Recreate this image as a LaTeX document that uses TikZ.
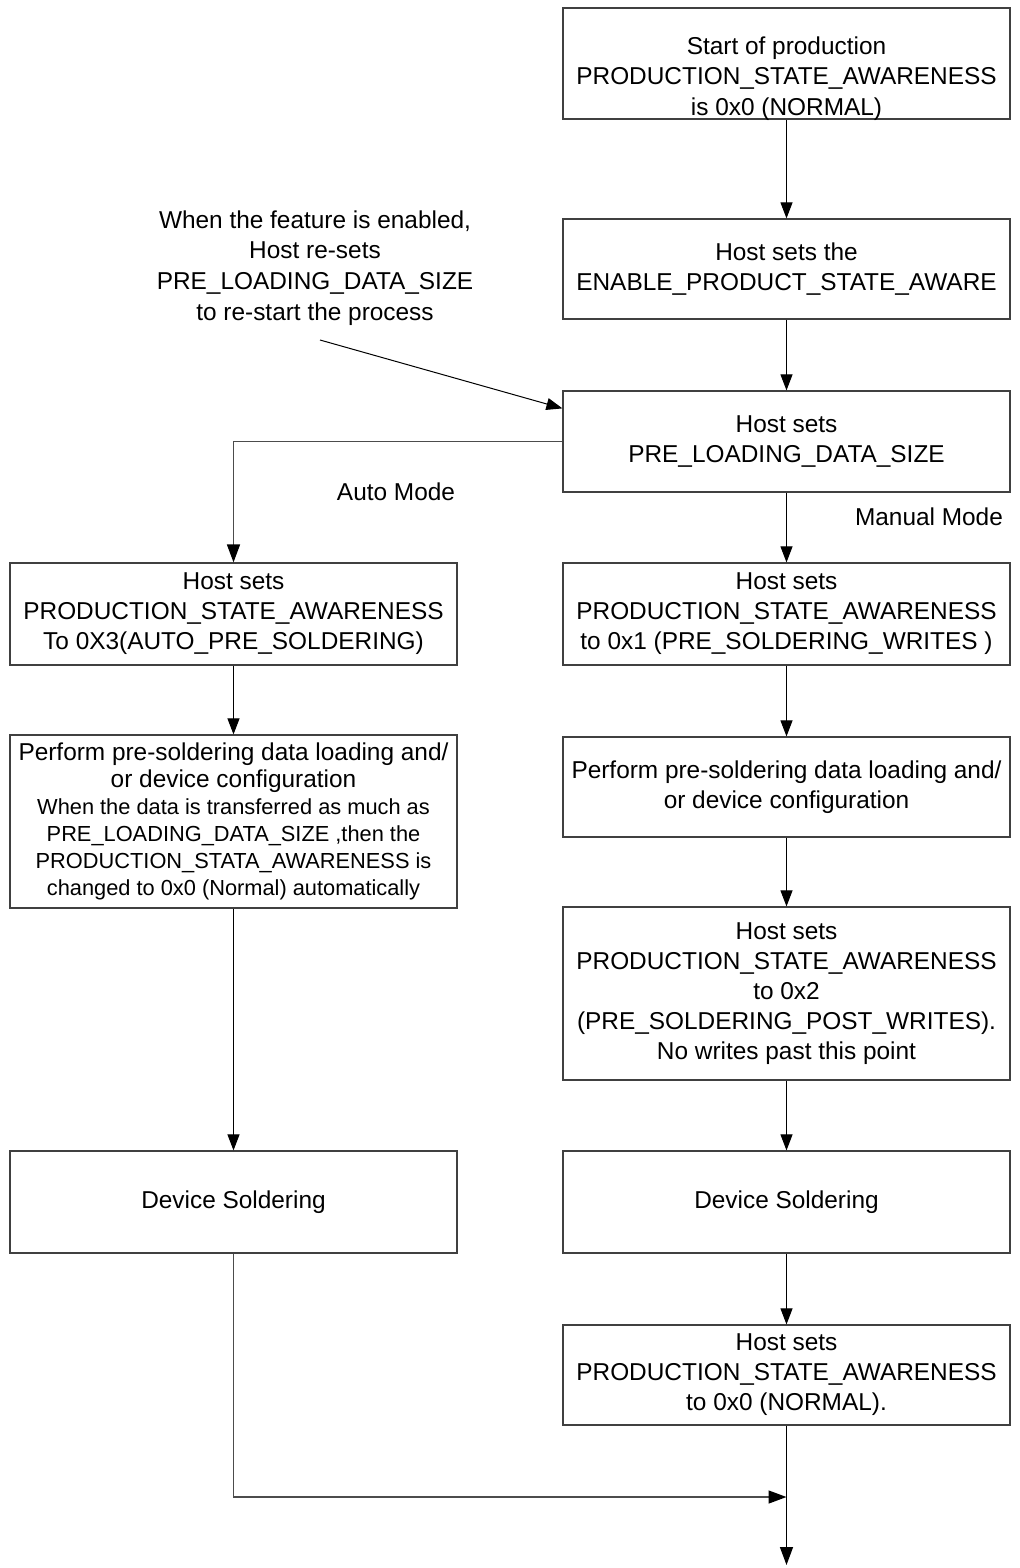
\documentclass[tikz,border=0pt]{standalone}
\usepackage{fontspec}
\setmainfont{Liberation Sans}
\usetikzlibrary{arrows.meta}

\newcommand{\fine}{\fontsize{10.9}{13.5}\selectfont}

\begin{document}
\begin{tikzpicture}[x=0.5pt,y=-0.5pt,
    box/.style={draw=black!75, line width=0.6pt, minimum width=223.5pt, align=center, inner sep=2pt,
        font=\fontsize{12.2}{15}\selectfont},
    tag/.style={align=center, font=\fontsize{12.2}{15.4}\selectfont},
    arr/.style={-{Triangle[length=8pt,width=6pt]}, line width=0.5pt},
    link/.style={-{Triangle[length=9pt,width=6.5pt,color=black]}, draw=black!70, line width=0.7pt}]
    \useasboundingbox (0,0) rectangle (1020,1568);

    % right column
    \node[box, minimum height=55.5pt, label={[tag, yshift=-7.5pt]center:{Start of production\\PRODUCTION\_STATE\_AWARENESS\\is 0x0 (NORMAL)}}] (start) at (786.5,63.5) {};
    \node[box, minimum height=50pt] (enable) at (786.5,269) {Host sets the\\ENABLE\_PRODUCT\_STATE\_AWARE};
    \node[box, minimum height=50.5pt] (size) at (786.5,441.5) {Host sets\\PRE\_LOADING\_DATA\_SIZE};
    \node[box, minimum height=51pt] (manset) at (786.5,614) {Host sets\\PRODUCTION\_STATE\_AWARENESS\\to 0x1 (PRE\_SOLDERING\_WRITES )};
    \node[box, minimum height=50pt] (manload) at (786.5,787) {Perform pre-soldering data loading and/\\or device configuration};
    \node[box, minimum height=86.5pt] (postset) at (786.5,993.5) {Host sets\\PRODUCTION\_STATE\_AWARENESS\\to 0x2\\(PRE\_SOLDERING\_POST\_WRITES).\\No writes past this point};
    \node[box, minimum height=51pt] (mansolder) at (786.5,1202) {Device Soldering};
    \node[box, minimum height=50pt] (normal) at (786.5,1375) {Host sets\\PRODUCTION\_STATE\_AWARENESS\\to 0x0 (NORMAL).};

    % left column
    \node[box, minimum height=51pt] (autoset) at (233.5,614) {Host sets\\PRODUCTION\_STATE\_AWARENESS\\To 0X3(AUTO\_PRE\_SOLDERING)};
    \node[box, minimum height=86.5pt, font=\fontsize{12.2}{13.5}\selectfont] (autoload) at (233.5,821.5)
        {Perform pre-soldering data loading and/\\or device configuration\\
         \fine When the data is transferred as much as\\\fine PRE\_LOADING\_DATA\_SIZE ,then the\\
         \fine PRODUCTION\_STATA\_AWARENESS is\\\fine changed to 0x0 (Normal) automatically};
    \node[box, minimum height=51pt] (autosolder) at (233.5,1202) {Device Soldering};

    % notes
    \node[tag] (restart) at (315,268) {When the feature is enabled,\\Host re-sets\\PRE\_LOADING\_DATA\_SIZE\\to re-start the process};
    \node[tag] (auto) at (396,492) {Auto Mode};
    \node[tag] (manual) at (929,517) {Manual Mode};

    \coordinate (tail) at (320,340);
    \coordinate (join) at (786.5,1497);
    \coordinate (end) at (786.5,1565);

    \draw[arr] (start) -- (enable);
    \draw[arr] (enable) -- (size);
    \draw[arr] (tail) -- ([yshift=-9pt]size.north west);
    \draw[link] (size.west) -| (autoset.north);
    \draw[arr] (size) -- (manset);
    \draw[arr] (manset) -- (manload);
    \draw[arr] (manload) -- (postset);
    \draw[arr] (postset) -- (mansolder);
    \draw[arr] (mansolder) -- (normal);
    \draw[arr] (autoset) -- (autoload);
    \draw[arr] (autoload) -- (autosolder);
    \draw[link] (autosolder) |- (join);
    \draw[link, draw=black] (normal) -- (end);
\end{tikzpicture}
\end{document}
